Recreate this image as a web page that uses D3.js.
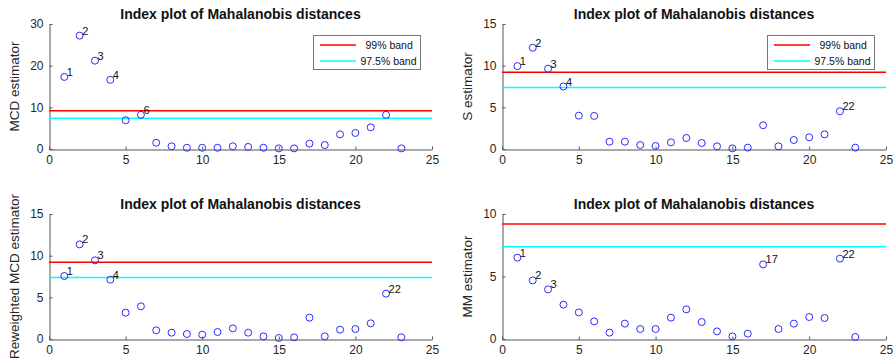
<!DOCTYPE html>
<html>
<head>
<meta charset="utf-8">
<script src="https://cdn.jsdelivr.net/npm/d3@7"></script>
<style>
  body { margin: 0; background: #fff; }
  svg { display: block; font-family: "Liberation Sans", Arial, sans-serif; }
</style>
</head>
<body>
<svg id="chart" width="896" height="364"></svg>
<script>
// index of observations
const idx = d3.range(1, 24);

// distances
const mcd  = [17.3, 27.2, 21.2, 16.6, 6.9, 8.2, 1.5, 0.65, 0.3, 0.3, 0.3, 0.65, 0.5, 0.3, 0.15, 0.15, 1.3, 0.95, 3.5, 3.85, 5.2, 8.2, 0.15];
const sest = [9.95, 12.15, 9.63, 7.5, 4.0, 3.97, 0.88, 0.88, 0.48, 0.36, 0.8, 1.32, 0.72, 0.32, 0.08, 0.16, 2.85, 0.32, 1.08, 1.4, 1.76, 4.53, 0.16];
const rmcd = [7.56, 11.36, 9.44, 7.12, 3.16, 3.92, 1.04, 0.76, 0.6, 0.52, 0.84, 1.28, 0.76, 0.32, 0.12, 0.2, 2.56, 0.32, 1.12, 1.2, 1.88, 5.44, 0.2];
const mm   = [6.51, 4.69, 3.97, 2.75, 2.13, 1.41, 0.51, 1.23, 0.8, 0.8, 1.71, 2.37, 1.36, 0.61, 0.21, 0.43, 5.97, 0.8, 1.23, 1.76, 1.68, 6.43, 0.16];

// labelled points in each panel
const lab_mcd  = [1, 2, 3, 4, 6];
const lab_s    = [1, 2, 3, 4, 22];
const lab_rmcd = [1, 2, 3, 4, 22];
const lab_mm   = [1, 2, 3, 17, 22];

// cutoffs (chi2, 2 df)
const cut99 = 9.21;
const cut975 = 7.38;

const xTicks = [0, 5, 10, 15, 20, 25];
const legendLabels = ["99% band", "97.5% band"];

const panels = [
  { vals: mcd,  labs: lab_mcd,  ymax: 30, yticks: [0, 10, 20, 30], ylabel: "MCD estimator",            x0: 49,  x1: 432, y0: 24,  y1: 149, legend: true },
  { vals: sest, labs: lab_s,    ymax: 15, yticks: [0, 5, 10, 15],  ylabel: "S estimator",              x0: 502, x1: 886, y0: 24,  y1: 149, legend: true },
  { vals: rmcd, labs: lab_rmcd, ymax: 15, yticks: [0, 5, 10, 15],  ylabel: "Reweighted MCD estimator", x0: 49,  x1: 432, y0: 214, y1: 339, legend: false },
  { vals: mm,   labs: lab_mm,   ymax: 10, yticks: [0, 5, 10],      ylabel: "MM estimator",             x0: 502, x1: 886, y0: 214, y1: 339, legend: false }
];

var svg = d3.select("#chart");
var axisCol = "#555";

panels.forEach(function(p) {
  var x = d3.scaleLinear().domain([0, 25]).range([p.x0, p.x1]);
  var y = d3.scaleLinear().domain([0, p.ymax]).range([p.y1, p.y0]);
  var g = svg.append("g");

  // axes, ticks pointing inward
  var xa = g.append("g")
    .attr("transform", "translate(0," + (p.y1 + 0.5) + ")")
    .call(d3.axisBottom(x).tickValues(xTicks).tickSizeInner(-3).tickSizeOuter(0).tickPadding(6));
  var ya = g.append("g")
    .attr("transform", "translate(" + (p.x0 + 0.5) + ",0)")
    .call(d3.axisLeft(y).tickValues(p.yticks).tickSizeInner(-3).tickSizeOuter(0).tickPadding(6));
  [xa, ya].forEach(function(a) {
    a.select(".domain").attr("stroke", axisCol);
    a.selectAll(".tick line").attr("stroke", axisCol);
    a.selectAll(".tick text").attr("fill", "#262626").style("font-size", "12px")
      .style("font-family", '"Liberation Sans", Arial, sans-serif');
  });

  // cutoff lines
  g.append("line").attr("x1", x(0)).attr("x2", x(25))
    .attr("y1", y(cut99)).attr("y2", y(cut99))
    .attr("stroke", "#ff0000").attr("stroke-width", 1.5);
  g.append("line").attr("x1", x(0)).attr("x2", x(25))
    .attr("y1", y(cut975)).attr("y2", y(cut975))
    .attr("stroke", "#00ffff").attr("stroke-width", 1.5);

  // points
  g.selectAll("circle").data(p.vals).enter().append("circle")
    .attr("cx", function(d, i) { return x(idx[i]); })
    .attr("cy", function(d) { return y(d); })
    .attr("r", 3.5)
    .attr("fill", "none")
    .attr("stroke", "#2b2bff")
    .attr("stroke-width", 1);

  // point labels
  g.selectAll("text.lab").data(p.labs).enter().append("text")
    .attr("class", "lab")
    .attr("x", function(k) { return x(k) + 2.5; })
    .attr("y", function(k) { return y(p.vals[k - 1]) - 1; })
    .style("font-size", "11px")
    .attr("fill", "#111")
    .text(function(k) { return k; });

  // title
  g.append("text")
    .attr("x", (p.x0 + p.x1) / 2)
    .attr("y", p.y0 - 5)
    .attr("text-anchor", "middle")
    .style("font-size", "14px")
    .style("font-weight", "bold")
    .attr("fill", "#111")
    .text("Index plot of Mahalanobis distances");

  // y label
  g.append("text")
    .attr("transform", "translate(" + (p.x0 - 30) + "," + ((p.y0 + p.y1) / 2) + ") rotate(-90)")
    .attr("text-anchor", "middle")
    .style("font-size", "13.5px")
    .attr("fill", "#262626")
    .text(p.ylabel);

  // legend
  if (p.legend) {
    var lx = p.x1 - 119, ly = p.y0 + 11;
    var lg = g.append("g").attr("transform", "translate(" + lx + "," + ly + ")");
    lg.append("rect").attr("x", 0.5).attr("y", 0.5).attr("width", 107).attr("height", 34)
      .attr("fill", "#fff").attr("stroke", "#777");
    var cols = ["#ff0000", "#00ffff"];
    var starts = [52.5, 47.5];
    legendLabels.forEach(function(t, i) {
      var yy = 10 + i * 16;
      lg.append("line").attr("x1", 7).attr("x2", 43).attr("y1", yy).attr("y2", yy)
        .attr("stroke", cols[i]).attr("stroke-width", 1.5);
      lg.append("text").attr("x", starts[i]).attr("y", yy + 3.8)
        .style("font-size", "10.5px").attr("fill", "#111").text(t);
    });
  }
});
</script>
</body>
</html>
